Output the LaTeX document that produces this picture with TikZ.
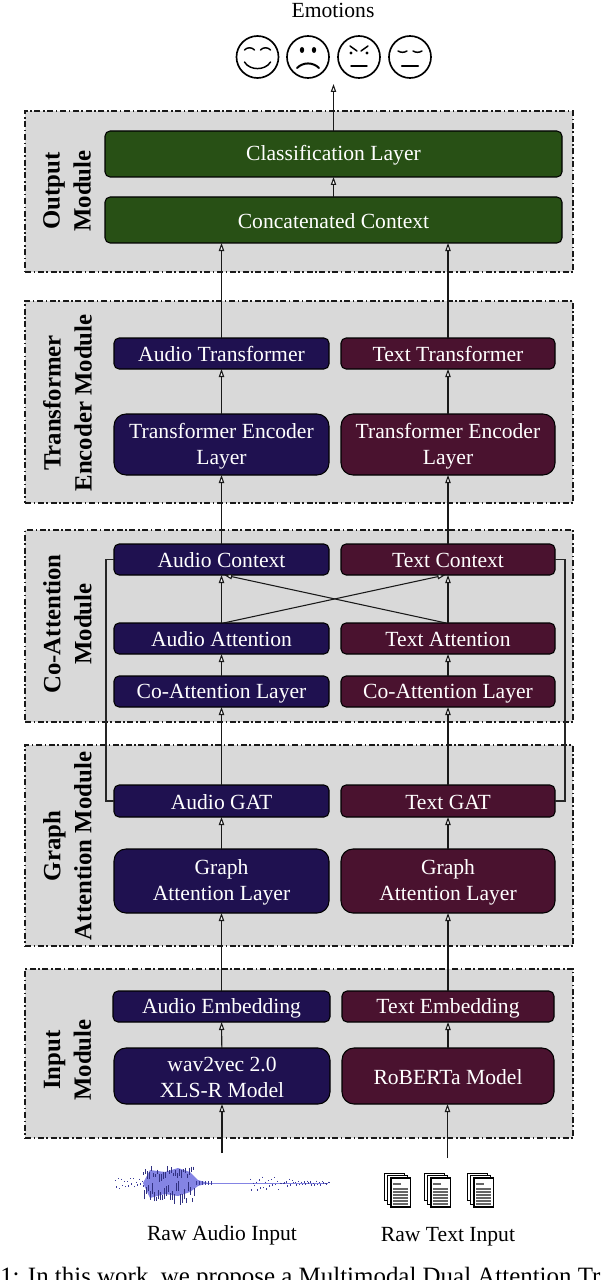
\documentclass[tikz,border=0pt]{standalone}
\usepackage{fontspec}
\setmainfont{Liberation Serif}
\usetikzlibrary{arrows.meta,calc}
\definecolor{navy}{HTML}{1F1150}
\definecolor{maroon}{HTML}{4A122F}
\definecolor{forest}{HTML}{285015}
\definecolor{modgrey}{HTML}{D9D9D9}
\definecolor{wavedark}{HTML}{3A3A98}
\definecolor{wavelight}{HTML}{8484E4}
\tikzset{
  modbox/.style={draw=black!90,fill=modgrey,line width=0.9pt,dash pattern=on 4.5pt off 2pt on 1.1pt off 2pt,inner sep=0pt,outer sep=0pt},
  blk/.style={draw=black,line width=0.8pt,rounded corners=3.8pt,text=white,inner sep=0pt,outer sep=0pt,align=center,font=\fontsize{16.2}{19.5}\selectfont},
  aud/.style={blk,fill=navy},
  txt/.style={blk,fill=maroon},
  grn/.style={blk,fill=forest},
  tall/.style={rounded corners=9pt},
  conn/.style={draw=black!90,line width=0.8pt,-{Triangle[open,fill=white,length=6pt,width=4pt]}},
  loopline/.style={draw=black!85,line width=0.85pt},
  modlabel/.style={rotate=90,font=\fontsize{18.6}{23.2}\bfseries\selectfont,align=center,inner sep=0pt},
  plain/.style={font=\fontsize{16.2}{19}\selectfont,inner sep=0pt},
  face/.style={draw=black,line width=1.25pt,circle,minimum size=31.5pt,inner sep=0pt},
  fl/.style={line width=1.1pt,line cap=round},
}
\newcommand\st{\rule[-1.2pt]{0pt}{15pt}}
\newcommand\mybox[7]{%
  \pgfmathsetmacro\cx{(#3+#5)/2}\pgfmathsetmacro\cy{(#4+#6)/2}%
  \node[#2,minimum width={(#5-#3)*0.75pt},minimum height={(#6-#4)*0.75pt}] (#1) at (\cx,\cy) {#7};}
\begin{document}
\begin{tikzpicture}[x=0.75pt,y=-0.75pt]
\useasboundingbox (0,0) rectangle (606,1280);
% modules
\mybox{mOut}{modbox}{25}{111}{573}{272}{}
\mybox{mTr}{modbox}{25}{301}{573}{503}{}
\mybox{mCo}{modbox}{25}{530}{573}{722}{}
\mybox{mGr}{modbox}{25}{745}{573}{946}{}
\mybox{mIn}{modbox}{25}{969}{573}{1138}{}
\node[modlabel] (lOut) at (67,191) {Output\\Module};
\node[modlabel] (lTr) at (67.5,403) {Transformer\\Encoder Module};
\node[modlabel] (lCo) at (67.5,624) {Co-Attention\\Module};
\node[modlabel] (lGr) at (67.5,846) {Graph\\Attention Module};
\node[modlabel] (lIn) at (67.5,1060) {Input\\Module};
% blocks
\mybox{cls}{grn}{105}{131}{562}{177}{\st Classification Layer}
\mybox{cat}{grn}{105}{197}{562}{243}{\st Concatenated Context}
\mybox{atr}{aud}{114}{338}{329}{369}{\st Audio Transformer}
\mybox{ttr}{txt}{341}{338}{555}{369}{\st Text Transformer}
\mybox{aenc}{aud,tall}{114}{414}{329}{475}{\st Transformer Encoder\\\st Layer}
\mybox{tenc}{txt,tall}{341}{414}{555}{475}{\st Transformer Encoder\\\st Layer}
\mybox{actx}{aud}{114}{544}{329}{575}{\st Audio Context}
\mybox{tctx}{txt}{341}{544}{555}{575}{\st Text Context}
\mybox{aatt}{aud}{114}{623}{329}{654}{\st Audio Attention}
\mybox{tatt}{txt}{341}{623}{555}{654}{\st Text Attention}
\mybox{acol}{aud}{114}{676}{329}{707}{\st Co-Attention Layer}
\mybox{tcol}{txt}{341}{676}{555}{707}{\st Co-Attention Layer}
\mybox{agat}{aud}{114}{785}{329}{817}{\st Audio GAT}
\mybox{tgat}{txt}{341}{785}{555}{817}{\st Text GAT}
\mybox{agl}{aud,tall}{114}{849}{329}{913}{\st Graph\\\st Attention Layer}
\mybox{tgl}{txt,tall}{341}{849}{555}{913}{\st Graph\\\st Attention Layer}
\mybox{aemb}{aud}{113}{991}{330}{1022}{\st Audio Embedding}
\mybox{temb}{txt}{342}{991}{554}{1022}{\st Text Embedding}
\mybox{w2v}{aud,tall}{114}{1048}{330}{1104}{\st wav2vec 2.0\\\st XLS-R Model}
\mybox{rob}{txt,tall}{342}{1048}{554}{1104}{\st RoBERTa Model}
% free ends
\coordinate (emoIn) at (333.5,84);
\coordinate (rawA) at (222,1153);
\coordinate (rawT) at (447.5,1158);
% connectors
\draw[conn] (cls.north -| emoIn) -- (emoIn);
\draw[conn] (cat.north -| emoIn) -- (cls.south -| emoIn);
\draw[conn] (atr.north) -- (atr.north |- cat.south);
\draw[conn] (ttr.north) -- (ttr.north |- cat.south);
\draw[conn] (aenc) -- (atr);
\draw[conn] (tenc) -- (ttr);
\draw[conn] (actx) -- (aenc);
\draw[conn] (tctx) -- (tenc);
\draw[conn] (aatt) -- (actx);
\draw[conn] (tatt) -- (tctx);
\draw[conn] ([xshift=1.5pt]aatt.north) -- ([xshift=-2pt]tctx.south);
\draw[conn] ([xshift=-1.5pt]tatt.north) -- ([xshift=2pt]actx.south);
\draw[conn] (acol) -- (aatt);
\draw[conn] (tcol) -- (tatt);
\draw[conn] (agat) -- (acol);
\draw[conn] (tgat) -- (tcol);
\draw[conn] (agl) -- (agat);
\draw[conn] (tgl) -- (tgat);
\draw[conn] (aemb) -- (agl);
\draw[conn] (temb) -- (tgl);
\draw[conn] (w2v) -- (aemb);
\draw[conn] (rob) -- (temb);
\draw[conn] (rawA) -- (rawA |- w2v.south);
\draw[conn] (rawT) -- (rawT |- rob.south);
\draw[loopline] (actx.west) -- ++(-8,0) |- (agat.west);
\draw[loopline] (tctx.east) -- ++(10,0) |- (tgat.east);
% labels
\node[plain] (emo) at (333,10) {Emotions};
\node[plain] (rawAL) at (222,1235) {Raw Audio Input};
\node[plain] (rawTL) at (448,1236.5) {Raw Text Input};
% faces
\node[face] (f1) at (257.5,57) {};
\node[face] (f2) at (308,57) {};
\node[face] (f3) at (359,57) {};
\node[face] (f4) at (410,57) {};
\begin{scope}[shift={(f1.center)}]
 \draw[fl] (-13,-7) to[bend left=50] (-3,-7);
 \draw[fl] (3,-7) to[bend left=50] (13,-7);
 \draw[fl] (-13,5) to[bend right=60] (13,5);
\end{scope}
\begin{scope}[shift={(f2.center)}]
 \fill (-6,-7) ellipse (2.2 and 3);
 \fill (6,-7) ellipse (2.2 and 3);
 \draw[fl,line width=1.5pt] (-11,11) to[bend left=45] (11,11);
\end{scope}
\begin{scope}[shift={(f3.center)}]
 \draw[fl] (-9,-11) -- (-2,-6);
 \draw[fl] (9,-11) -- (2,-6);
 \fill (-8,-4) circle (1.7);
 \fill (8,-4) circle (1.7);
 \draw[fl] (-8,9) -- (8,9);
\end{scope}
\begin{scope}[shift={(f4.center)}]
 \draw[fl] (-12,-6) to[bend right=30] (-3,-6);
 \draw[fl] (3,-6) to[bend right=30] (12,-6);
 \draw[fl,line width=1.6pt] (-8,9) -- (8,9);
\end{scope}
% waveform
\pgfmathsetseed{4242}
\draw[wavelight,line width=0.5pt] (195,1183) -- (328,1183);
\fill[wavelight] (143,1183) -- (150,1170) -- (165,1172) -- (178,1168) -- (190,1172) -- (198,1180) -- (208,1183)
  -- (198,1186) -- (190,1192) -- (178,1196) -- (165,1194) -- (150,1198) -- cycle;
\foreach \wx in {143,145,...,193}{
  \pgfmathsetmacro\up{8+10*rnd}
  \pgfmathsetmacro\dn{8+15*rnd}
  \draw[wavedark!85!black,line width=0.6pt] (\wx,1183-\up) -- (\wx,1183-\up+3+5*rnd);
  \draw[wavedark!85!black,line width=0.6pt] (\wx+1,1183+\dn) -- (\wx+1,1183+\dn-4-7*rnd);
}
\foreach \wx in {115,118,...,142}{
  \pgfmathsetmacro\up{1+4*rnd}
  \pgfmathsetmacro\dn{1+6*rnd}
  \draw[wavedark,line width=0.5pt] (\wx,1183-\up) -- (\wx,1183-\up+1);
  \draw[wavedark,line width=0.5pt] (\wx+1,1183+\dn) -- (\wx+1,1183+\dn-1.5);
}
\foreach \wx in {196,199,...,212}{
  \draw[wavedark,line width=0.5pt] (\wx,1181) -- (\wx,1185);
}
\foreach \wx in {250,253,...,328}{
  \pgfmathsetmacro\amp{\wx<295?7:2.5}
  \pgfmathsetmacro\up{\amp*rnd}
  \pgfmathsetmacro\dn{\amp*rnd*1.2}
  \draw[wavedark,line width=0.5pt] (\wx,1183-\up) -- (\wx,1183-\up+1.2);
  \draw[wavedark,line width=0.5pt] (\wx+1,1183+\dn) -- (\wx+1,1183+\dn-1.5);
}
% documents
\foreach \dx in {384,424,467}{
  \filldraw[fill=white,draw=black,line width=0.7pt] (\dx,1173) rectangle (\dx+20,1200);
  \filldraw[fill=white,draw=black,line width=0.7pt] (\dx+3.5,1175) rectangle (\dx+23.5,1204);
  \filldraw[fill=white,draw=black,line width=0.9pt] (\dx+7,1178) rectangle (\dx+26.5,1207);
  \draw[black!60,line width=1.1pt] (\dx+9,1184) -- (\dx+17,1184);
  \foreach \ly in {1189,1192,...,1204}{
    \draw[black!60,line width=1.1pt] (\dx+9,\ly) -- (\dx+24,\ly);
  }
}
% caption
\begin{scope}
\clip (0,1255) rectangle (606,1280);
\node[anchor=base west,inner sep=0pt,font=\fontsize{18.7}{22}\selectfont] (cap) at (0,1284.5) {1: In this work, we propose a Multimodal Dual Attention Tr};
\end{scope}
\end{tikzpicture}
\end{document}
